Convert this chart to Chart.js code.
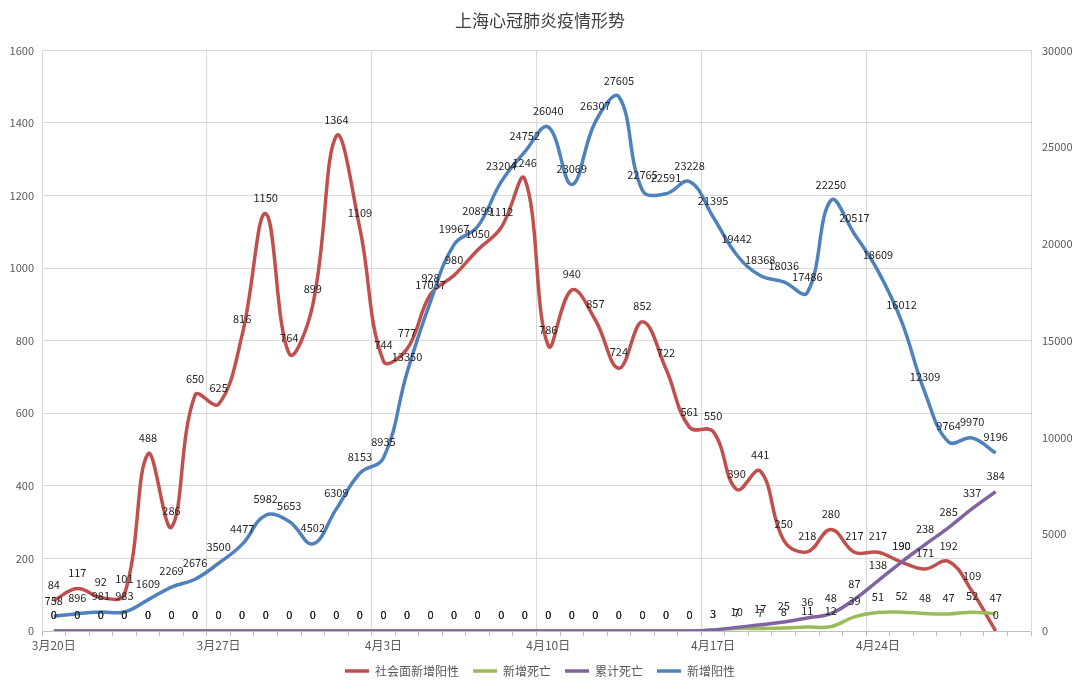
<!DOCTYPE html>
<html>
<head>
<meta charset="utf-8">
<title>上海心冠肺炎疫情形势</title>
<script src="https://cdn.jsdelivr.net/npm/chart.js@4/dist/chart.umd.min.js"></script>
<style>
html, body { margin: 0; padding: 0; background: #fff; }
</style>
</head>
<body>
<canvas id="graphe" width="1080" height="691"></canvas>
<script>
// categories: one per day, 3/20 .. 4/30 (last day has no data)
var dates = [
    '3月20日', '3月21日', '3月22日', '3月23日', '3月24日', '3月25日', '3月26日',
    '3月27日', '3月28日', '3月29日', '3月30日', '3月31日', '4月1日', '4月2日',
    '4月3日', '4月4日', '4月5日', '4月6日', '4月7日', '4月8日', '4月9日',
    '4月10日', '4月11日', '4月12日', '4月13日', '4月14日', '4月15日', '4月16日',
    '4月17日', '4月18日', '4月19日', '4月20日', '4月21日', '4月22日', '4月23日',
    '4月24日', '4月25日', '4月26日', '4月27日', '4月28日', '4月29日', '4月30日'
];
// series values
var socialCases = [
    84, 117, 92, 101, 488, 286, 650, 625, 816, 1150, 764, 899, 1364, 1109,
    744, 777, 928, 980, 1050, 1112, 1246, 786, 940, 857, 724, 852, 722, 561,
    550, 390, 441, 250, 218, 280, 217, 217, 190, 171, 192, 109, 0
];
var newDeaths = [
    0, 0, 0, 0, 0, 0, 0, 0, 0, 0, 0, 0, 0, 0,
    0, 0, 0, 0, 0, 0, 0, 0, 0, 0, 0, 0, 0, 0,
    3, 7, 7, 8, 11, 12, 39, 51, 52, 48, 47, 52, 47
];
var totalDeaths = [
    0, 0, 0, 0, 0, 0, 0, 0, 0, 0, 0, 0, 0, 0,
    0, 0, 0, 0, 0, 0, 0, 0, 0, 0, 0, 0, 0, 0,
    3, 10, 17, 25, 36, 48, 87, 138, 190, 238, 285, 337, 384
];
var newCases = [
    758, 896, 981, 983, 1609, 2269, 2676, 3500, 4477, 5982, 5653, 4502, 6309, 8153,
    8935, 13350, 17037, 19967, 20899, 23204, 24752, 26040, 23069, 26307, 27605, 22765, 22591, 23228,
    21395, 19442, 18368, 18036, 17486, 22250, 20517, 18609, 16012, 12309, 9764, 9970, 9196
];
// axis ranges
var leftMax = 1600, leftStep = 200;
var rightMax = 30000, rightStep = 5000;

var textColor = '#595959';
var gridColor = '#d9d9d9';

Chart.defaults.font.family = '"Noto Sans CJK SC", "Noto Sans", sans-serif';

//draw the value of each point just above it, like excel data labels
var valueLabels = {
    id: 'valueLabels',
    afterDatasetsDraw: function(chart) {
        var ctx = chart.ctx;
        ctx.save();
        ctx.font = '11px "Noto Sans CJK SC", "Noto Sans", sans-serif';
        ctx.fillStyle = '#262626';
        ctx.textAlign = 'center';
        ctx.textBaseline = 'middle';
        chart.data.datasets.forEach(function(ds, i) {
            var meta = chart.getDatasetMeta(i);
            meta.data.forEach(function(pt, j) {
                if (ds.data[j] === undefined) return;
                ctx.fillText(String(ds.data[j]), pt.x, pt.y - 16);
            });
        });
        ctx.restore();
    }
};

function line(label, data, color, axis, order) {
    return {
        label: label,
        data: data,
        yAxisID: axis,
        borderColor: color,
        backgroundColor: color,
        borderWidth: 3.5,
        pointRadius: 0,
        tension: 0.4,
        fill: false,
        order: order
    };
}

//plain numbers on the value axes, no thousands separator
function plain(v) { return String(v); }

var ctx = document.getElementById('graphe').getContext('2d');
var myChart = new Chart(ctx, {
    type: 'line',
    data: {
        labels: dates,
        datasets: [
            line('社会面新增阳性', socialCases, '#C0504D', 'y', 3),
            line('新增死亡', newDeaths, '#9BBB59', 'y', 2),
            line('累计死亡', totalDeaths, '#8064A2', 'y', 1),
            line('新增阳性', newCases, '#4F81BD', 'y1', 0)
        ]
    },
    options: {
        responsive: false,
        animation: false,
        layout: { padding: { top: 0, right: 0, bottom: 4, left: 0 } },
        plugins: {
            title: {
                display: true,
                text: '上海心冠肺炎疫情形势',
                color: '#404040',
                font: { size: 17, weight: 'normal' },
                padding: { top: 10, bottom: 20 }
            },
            legend: {
                position: 'bottom',
                labels: {
                    usePointStyle: true,
                    pointStyle: 'line',
                    pointStyleWidth: 24,
                    color: textColor,
                    font: { size: 12 },
                    padding: 14,
                    sort: function(a, b) { return a.datasetIndex - b.datasetIndex; }
                }
            },
            tooltip: { enabled: false }
        },
        scales: {
            x: {
                type: 'category',
                offset: true,
                grid: {
                    offset: true,
                    //only one vertical line each week
                    color: function(c) { return c.index % 7 === 0 ? gridColor : 'rgba(0,0,0,0)'; },
                    tickColor: '#bfbfbf',
                    tickLength: 5
                },
                border: { color: '#bfbfbf' },
                ticks: {
                    autoSkip: false,
                    maxRotation: 0,
                    color: textColor,
                    font: { size: 12 },
                    padding: 2,
                    callback: function(v, i) { return i % 7 === 0 ? this.getLabelForValue(v) : ''; }
                },
                afterFit: function(s) { s.height = 20; }
            },
            y: {
                position: 'left',
                min: 0,
                max: leftMax,
                grid: { color: gridColor, drawTicks: false },
                border: { color: gridColor },
                ticks: { stepSize: leftStep, color: textColor, font: { size: 11 }, padding: 8, callback: plain },
                afterFit: function(s) { s.width = 42; }
            },
            y1: {
                position: 'right',
                min: 0,
                max: rightMax,
                grid: { drawOnChartArea: false, drawTicks: false },
                border: { color: gridColor },
                ticks: { stepSize: rightStep, color: textColor, font: { size: 11 }, padding: 11, callback: plain },
                afterFit: function(s) { s.width = 49; }
            }
        }
    },
    plugins: [valueLabels]
});
</script>
</body>
</html>
